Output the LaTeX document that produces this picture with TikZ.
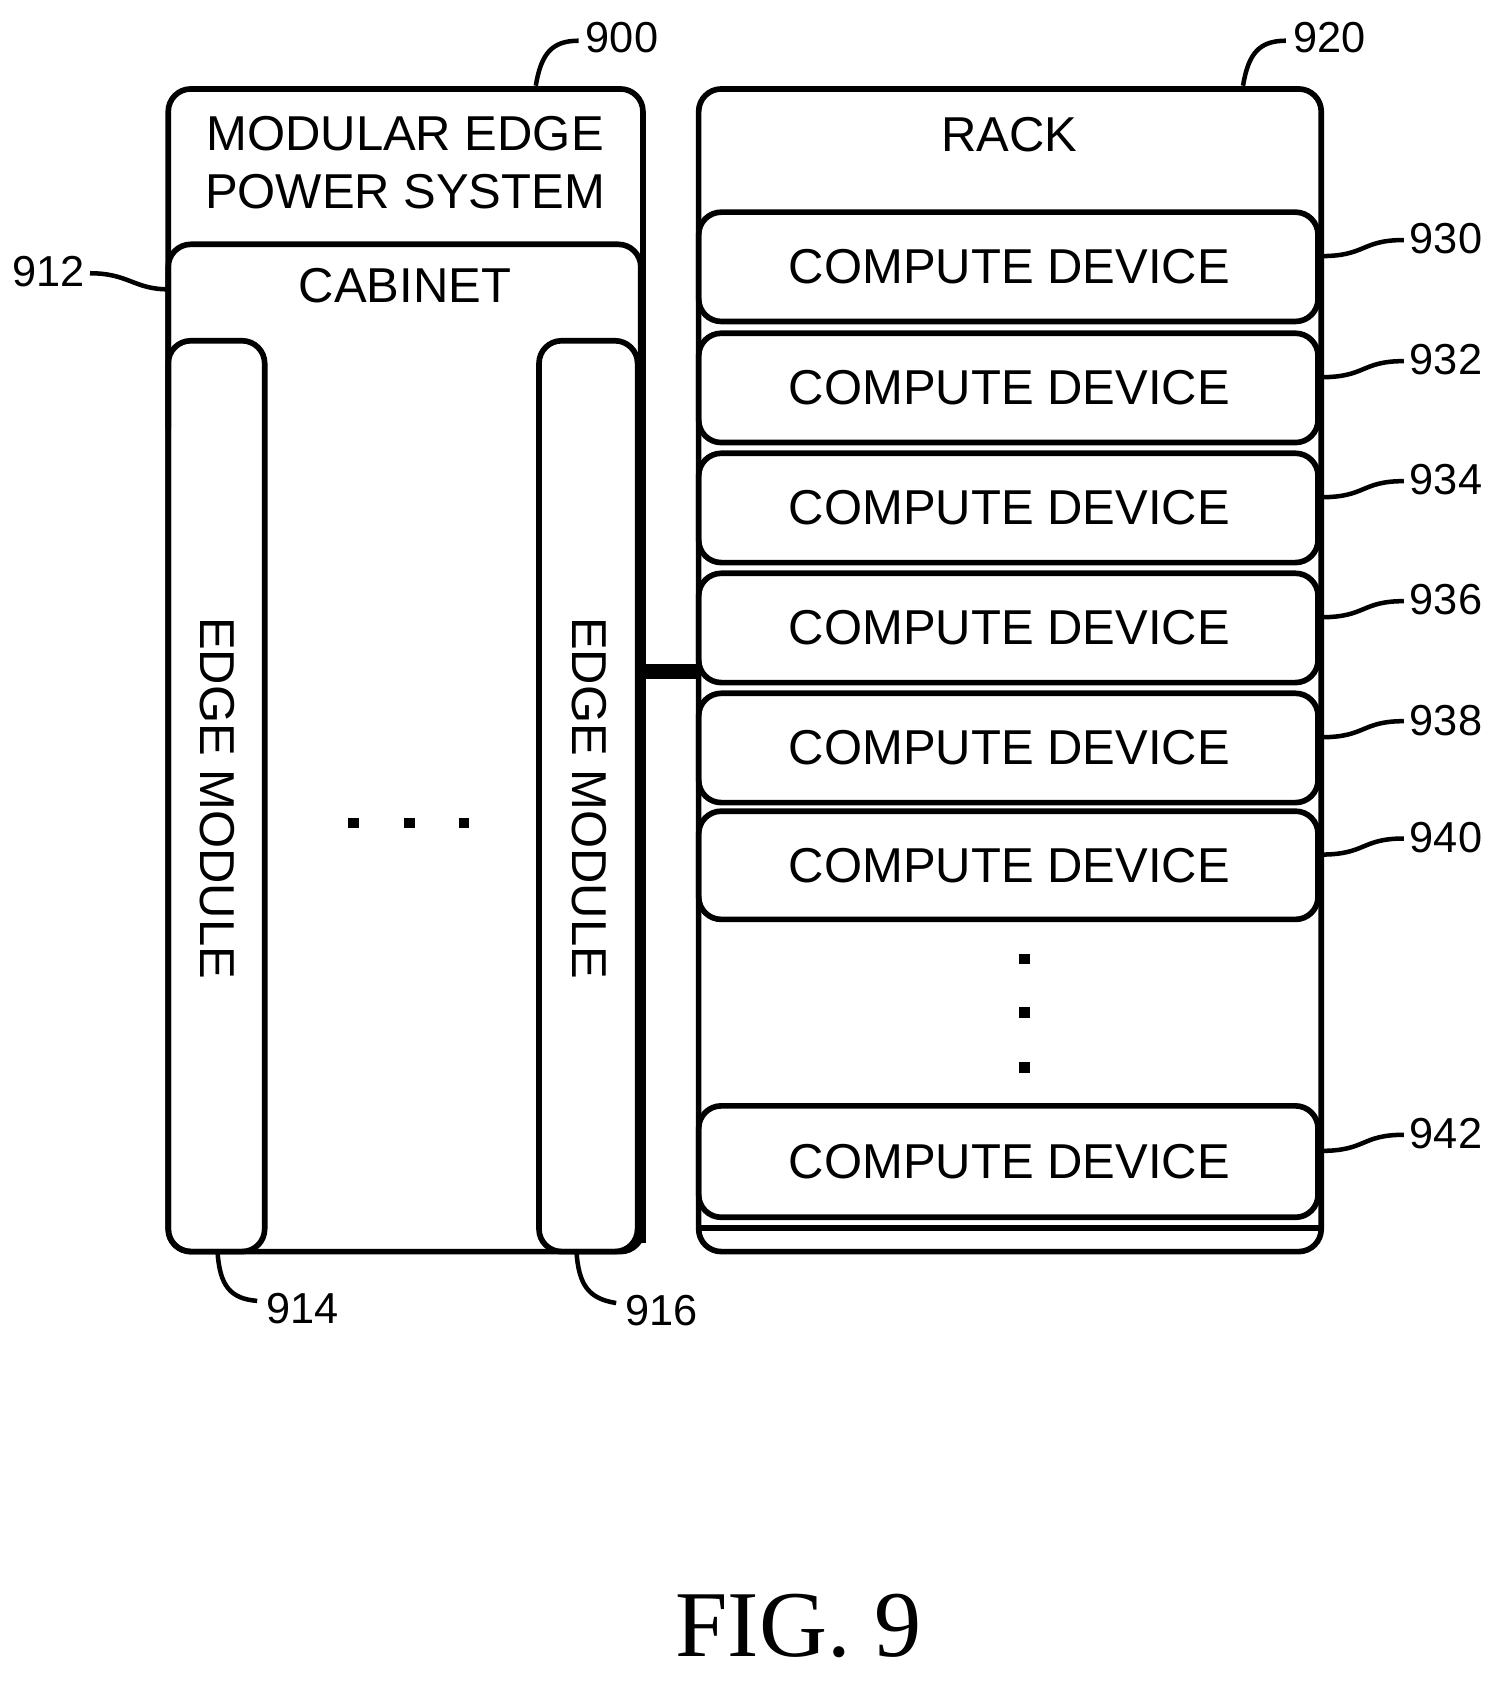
\documentclass[tikz,border=0pt]{standalone}
\usepackage{fontspec}
\setmainfont{Liberation Serif}
\newfontfamily\labfont{Liberation Sans}
\usetikzlibrary{positioning}
\tikzset{
    box/.style={draw, line width=1.5pt, rounded corners=6pt},
    lbl/.style={font=\labfont\fontsize{13}{15.5}\selectfont, inner sep=0pt},
    num/.style={font=\labfont\fontsize{11.5}{14}\selectfont, inner sep=0pt},
    lead/.style={line width=1.2pt},
    dot/.style={fill, minimum size=2.8pt, inner sep=0pt, draw=none}
}
\begin{document}
\begin{tikzpicture}[x=0.01cm, y=-0.01cm]
    \useasboundingbox (0,0) rectangle (1411,1579);
    % power system
    \draw[box] (157,83) rectangle (600,1168);
    \draw[box] (157,400) -- (157,228) -- (598,228) -- (598,400);
    \node[lbl, align=center] (mep) at (378,152) {MODULAR EDGE\\POWER SYSTEM};
    \node[lbl] (cab) at (378,267) {CABINET};
    \draw[box] (157,318) rectangle (247,1168);
    \draw[box] (503,318) rectangle (595,1168);
    \draw[line width=2.5pt] (598,330) -- (598,1160);
    \node[lbl, rotate=-90] (em1) at (203,745) {EDGE MODULE};
    \node[lbl, rotate=-90] (em2) at (550,745) {EDGE MODULE};
    \foreach \x in {330,382,433}
        \node[dot] at (\x,768) {};
    % rack
    \draw[box] (652,83) rectangle (1233,1168);
    \node[lbl] (rack) at (942,126) {RACK};
    \foreach \t/\b/\n in {198/300/930, 311/413/932, 423/525/934, 535/637/936, 647/749/938, 757/858/940, 1032/1136/942}{
        \draw[box] (652,\t) rectangle (1230,\b);
        \node[lbl] (cd\n) at (942,{(\t+\b)/2}) {COMPUTE DEVICE};
        \draw[lead] (1233,{(\t+\b)/2-10}) .. controls (1275,{(\t+\b)/2-10}) and (1270,{(\t+\b)/2-25}) .. (1310,{(\t+\b)/2-25});
        \node[num, anchor=west] (n\n) at (1315,{(\t+\b)/2-26}) {\n};
    }
    \draw[line width=1.5pt] (652,1146) -- (1233,1146);
    \foreach \y in {895,945,996}
        \node[dot] at (956,\y) {};
    % link
    \draw[line width=4pt] (598,627) -- (652,627);
    % leaders
    \draw[lead] (500,80) .. controls (505,50) and (515,38) .. (540,38);
    \node[num, anchor=west] (n900) at (546,35) {900};
    \draw[lead] (1160,80) .. controls (1165,50) and (1175,38) .. (1200,38);
    \node[num, anchor=west] (n920) at (1206,35) {920};
    \node[num, anchor=east] (n912) at (80,253) {912};
    \draw[lead] (84,255) .. controls (120,255) and (125,270) .. (157,270);
    \draw[lead] (203,1168) .. controls (205,1200) and (215,1212) .. (240,1214);
    \node[num, anchor=west] (n914) at (248,1221) {914};
    \draw[lead] (538,1168) .. controls (540,1200) and (550,1212) .. (575,1216);
    \node[num, anchor=west] (n916) at (583,1223) {916};
    \node[font=\fontsize{25}{28}\selectfont] (fig) at (745,1517) {FIG. 9};
\end{tikzpicture}
\end{document}
